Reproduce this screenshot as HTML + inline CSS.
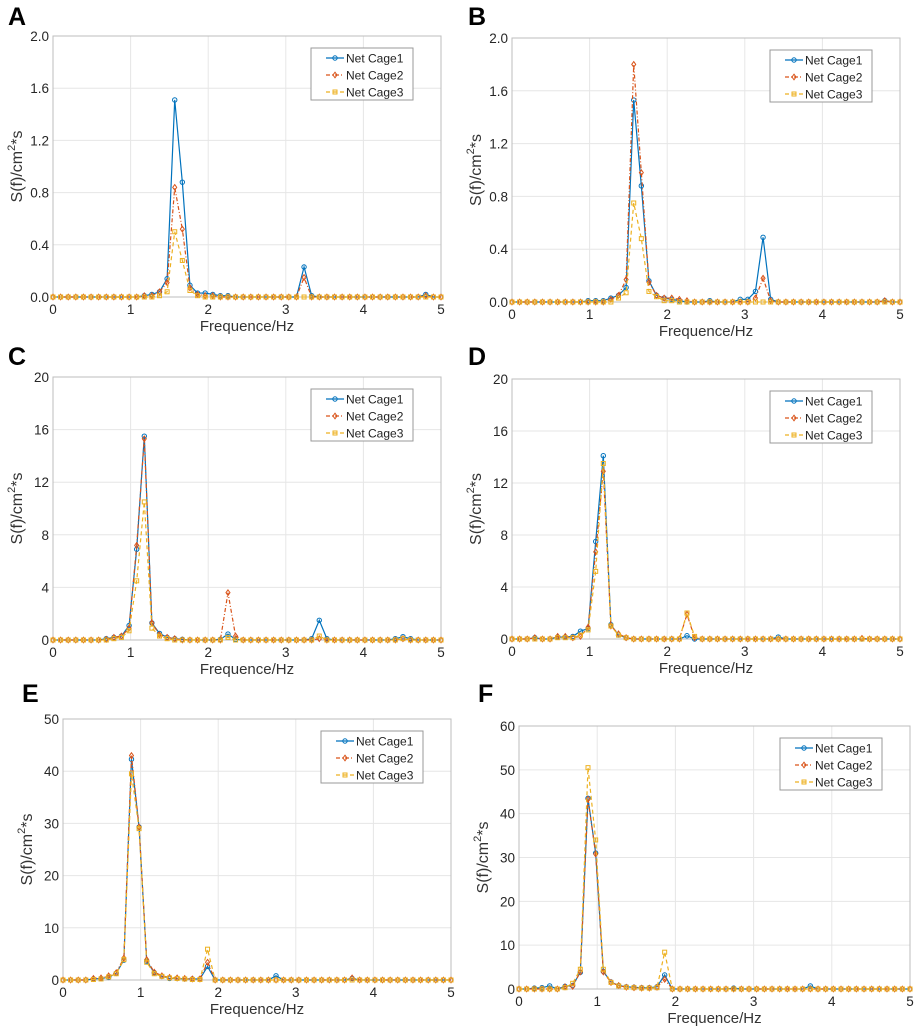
<!DOCTYPE html>
<html><head><meta charset="utf-8">
<style>
html,body{margin:0;padding:0;background:#fff;}
svg{display:block;font-family:"Liberation Sans",Arial,sans-serif;}
</style></head>
<body>
<svg id="fig" width="917" height="1028" viewBox="0 0 917 1028" xmlns="http://www.w3.org/2000/svg"></svg>
<script>
// frequency samples: 52 points between 0 and 5 Hz
const freqCount = 52;
const xTicks = [0,1,2,3,4,5];
const seriesNames = ["Net Cage1","Net Cage2","Net Cage3"];

const yTicksA = ["0.0","0.4","0.8","1.2","1.6","2.0"];
const A1 = [0,0,0,0,0,0,0,0,0,0, 0,0,0.01,0.02,0.04,0.14,1.51,0.88,0.09,0.03, 0.03,0.02,0.01,0.01,0,0,0,0,0,0, 0,0,0,0.23,0.01,0,0,0,0,0, 0,0,0,0,0,0,0,0,0,0.02, 0,0];
const A2 = [0,0,0,0,0,0,0,0,0,0, 0,0,0.01,0.01,0.04,0.11,0.84,0.52,0.07,0.02, 0.01,0.01,0,0,0,0,0,0,0,0, 0,0,0,0.15,0,0,0,0,0,0, 0,0,0,0,0,0,0,0,0,0.01, 0,0];
const A3 = [0,0,0,0,0,0,0,0,0,0, 0,0,0,0,0.01,0.04,0.50,0.28,0.05,0.01, 0,0,0,0,0,0,0,0,0,0, 0,0,0,0,0,0,0,0,0,0, 0,0,0,0,0,0,0,0,0,0, 0,0];

const yTicksB = ["0.0","0.4","0.8","1.2","1.6","2.0"];
const B1 = [0,0,0,0,0,0,0,0,0,0, 0.01,0.01,0.01,0.03,0.05,0.11,1.53,0.88,0.16,0.05, 0.03,0.02,0.01,0,0,0,0.01,0,0,0, 0.02,0.02,0.08,0.49,0.02,0,0,0,0,0, 0,0,0,0,0,0,0,0,0,0.01, 0,0];
const B2 = [0,0,0,0,0,0,0,0,0,0, 0,0,0,0.02,0.05,0.17,1.80,0.98,0.15,0.05, 0.03,0.03,0.02,0.01,0,0,0,0,0,0, 0,0,0.03,0.18,0.01,0,0,0,0,0, 0,0,0,0,0,0,0,0,0,0.01, 0,0];
const B3 = [0,0,0,0,0,0,0,0,0,0, 0,0,0,0,0.03,0.07,0.75,0.48,0.08,0.04, 0.01,0.01,0,0,0,0,0,0,0,0, 0,0,0,0,0,0,0,0,0,0, 0,0,0,0,0,0,0,0,0,0, 0,0];

const yTicksC = ["0","4","8","12","16","20"];
const C1 = [0,0,0,0,0,0,0,0.1,0.2,0.3, 1.1,6.9,15.5,1.3,0.5,0.2,0.1,0.05,0,0, 0,0,0.05,0.45,0.05,0,0,0,0,0, 0,0,0,0,0.1,1.5,0.1,0,0,0, 0,0,0,0,0,0.1,0.25,0.1,0,0, 0,0];
const C2 = [0,0,0,0,0,0,0,0.05,0.2,0.3, 0.9,7.2,15.3,1.3,0.4,0.2,0.1,0,0,0, 0,0,0,3.6,0.3,0,0,0,0,0, 0,0,0,0,0,0.1,0,0,0,0, 0,0,0,0,0,0,0.1,0,0,0, 0,0];
const C3 = [0,0,0,0,0,0,0,0,0.1,0.2, 0.7,4.5,10.5,0.9,0.3,0.1,0,0,0,0, 0,0,0,0.2,0,0,0,0,0,0, 0,0,0,0,0,0.3,0,0,0,0, 0,0,0,0,0,0,0.1,0,0,0, 0,0];

const yTicksD = ["0","4","8","12","16","20"];
const D1 = [0,0,0,0.1,0,0,0.15,0.15,0.2,0.6, 0.8,7.5,14.1,1.1,0.3,0.1,0,0,0,0, 0,0,0,0.25,0,0,0,0,0,0, 0,0,0,0,0,0.15,0,0,0,0, 0,0,0,0,0,0,0,0,0,0, 0,0];
const D2 = [0,0,0,0.1,0,0,0.2,0.2,0.1,0.2, 0.9,6.7,12.9,1.0,0.4,0.1,0,0,0,0, 0,0,0,1.9,0.1,0,0,0,0,0, 0,0,0,0,0,0,0,0,0,0, 0,0,0,0,0,0,0.05,0,0,0, 0,0];
const D3 = [0,0,0,0,0,0,0.1,0.1,0.1,0.3, 0.7,5.2,13.5,1.0,0.3,0.1,0,0,0,0, 0,0,0,2.0,0.2,0,0,0,0,0, 0,0,0,0,0,0,0,0,0,0, 0,0,0,0,0,0,0,0,0,0, 0,0];

const yTicksE = ["0","10","20","30","40","50"];
const E1 = [0,0,0,0,0.2,0.3,0.5,1.3,3.8,42.3, 29.3,3.6,1.4,0.7,0.3,0.3,0.2,0.2,0.2,2.6, 0,0,0,0,0,0,0,0,0.8,0, 0,0,0,0,0,0,0,0,0.3,0, 0,0,0,0,0,0,0,0,0,0, 0,0];
const E2 = [0,0,0,0,0.3,0.4,0.8,1.4,4.2,43.0, 29.3,3.9,1.5,0.8,0.5,0.4,0.3,0.2,0.2,3.4, 0,0,0,0,0,0,0,0,0,0, 0,0,0,0,0,0,0,0,0.4,0, 0,0,0,0,0,0,0,0,0,0, 0,0];
const E3 = [0,0,0,0,0.1,0.2,0.6,1.2,3.9,39.5, 29.0,3.4,1.2,0.7,0.4,0.3,0.2,0.1,0.1,5.9, 0,0,0,0,0,0,0,0,0,0, 0,0,0,0,0,0,0,0,0,0, 0,0,0,0,0,0,0,0,0,0, 0,0];

const yTicksF = ["0","10","20","30","40","50","60"];
const F1 = [0,0,0.2,0.3,0.7,0,0.6,0.8,3.8,43.5, 31.0,4.0,1.6,0.8,0.5,0.4,0.3,0.3,0.5,3.2, 0,0,0,0,0,0,0,0,0.2,0, 0,0,0,0,0,0,0,0,0.7,0, 0,0,0,0,0,0,0,0,0,0, 0,0];
const F2 = [0,0,0,0,0,0,0.5,0.6,3.9,43.3, 30.8,3.9,1.5,0.8,0.4,0.3,0.2,0.2,0.4,2.2, 0,0,0,0,0,0,0,0,0,0, 0,0,0,0,0,0,0,0,0,0, 0,0,0,0,0,0,0,0,0,0, 0,0];
const F3 = [0,0,0,0,0,0,0.3,1.3,4.5,50.5, 34.0,4.5,1.5,0.7,0.4,0.3,0.2,0.2,0.3,8.4, 0,0,0,0,0,0,0,0,0,0, 0,0,0,0,0,0,0,0,0,0, 0,0,0,0,0,0,0,0,0,0, 0,0];

const NS = "http://www.w3.org/2000/svg";
const fig = document.getElementById("fig");
function mk(tag, attrs, parent){
  const e = document.createElementNS(NS, tag);
  for (const k in attrs) e.setAttribute(k, attrs[k]);
  (parent||fig).appendChild(e);
  return e;
}
const colors = ["#0072BD","#D95319","#EDB120"];
const dashes = ["none","4 2 1 2","4 3"];

function panel(id, letter, lx, ly, x0, x1, yBot, yTop, yMax, yTickLabels, series){
  const g = mk("g", {});
  
  
  const X = f => x0 + (f/5)*(x1-x0);
  const Y = v => yBot - (v/yMax)*(yBot-yTop);
  const lt = mk("text", {x:lx, y:ly, "font-size":25, "font-weight":"bold", fill:"#000"}, g);
  lt.textContent = letter;
  
  
  mk("rect", {x:x0, y:yTop, width:x1-x0, height:yBot-yTop, fill:"#fff"}, g);
  xTicks.forEach(t => {
    const gl = mk("line", {x1:X(t), x2:X(t), y1:yTop, y2:yBot, stroke:"#e6e6e6", "stroke-width":1}, g);
    
    
    const tx = mk("text", {x:X(t), y:yBot+17, "font-size":13.5, fill:"#262626", "text-anchor":"middle"}, g);
    tx.textContent = t;
    
    
  });
  const n = yTickLabels.length - 1;
  yTickLabels.forEach((lab, i) => {
    const v = yMax * i / n;
    const gl = mk("line", {x1:x0, x2:x1, y1:Y(v), y2:Y(v), stroke:"#e6e6e6", "stroke-width":1}, g);
    
    
    const tx = mk("text", {x:x0-4, y:Y(v)+5, "font-size":13.5, fill:"#262626", "text-anchor":"end"}, g);
    tx.textContent = lab;
    
    
  });
  const box = mk("rect", {x:x0, y:yTop, width:x1-x0, height:yBot-yTop, fill:"none", stroke:"#bdbdbd", "stroke-width":1}, g);
  
  
  const xt = mk("text", {x:(x0+x1)/2, y:yBot+34, "font-size":15, fill:"#333", "text-anchor":"middle"}, g);
  xt.textContent = "Frequence/Hz";
  
  
  const yc = (yTop+yBot)/2;
  const yt = mk("text", {x:0, y:0, "font-size":16, fill:"#333", "text-anchor":"middle", transform:`translate(${x0-31},${yc}) rotate(-90)`}, g);
  
  
  const s1 = mk("tspan", {}, yt); s1.textContent = "S(f)/cm";
  const s2 = mk("tspan", {dy:-7, "font-size":11}, yt); s2.textContent = "2";
  const s3 = mk("tspan", {dy:7}, yt); s3.textContent = "*s";
  series.forEach((vals, si) => {
    const sg = mk("g", {}, g);
    
    
    const pts = vals.map((v, i) => [X(i*5/(freqCount-1)), Y(v)]);
    mk("polyline", {points: pts.map(p => p.join(",")).join(" "), fill:"none", stroke:colors[si], "stroke-width":1.2, "stroke-dasharray":dashes[si]}, sg);
    pts.forEach(p => {
      let m;
      if (si === 0) m = mk("circle", {cx:p[0], cy:p[1], r:2.2, fill:"none", stroke:colors[0], "stroke-width":1}, sg);
      else if (si === 1) m = mk("path", {d:`M${p[0]},${p[1]-2.8}L${p[0]+2},${p[1]}L${p[0]},${p[1]+2.8}L${p[0]-2},${p[1]}Z`, fill:"none", stroke:colors[1], "stroke-width":1}, sg);
      else m = mk("rect", {x:p[0]-2, y:p[1]-2, width:4, height:4, fill:"none", stroke:colors[2], "stroke-width":1}, sg);
      
      
    });
  });
  const lg = mk("g", {}, g);
  
  
  const lx0 = x1 - 130, ly0 = yTop + 12;
  mk("rect", {x:lx0, y:ly0, width:102, height:52, fill:"#fff", stroke:"#999", "stroke-width":1}, lg);
  seriesNames.forEach((nm, si) => {
    const ey = ly0 + 10 + si*17;
    const e = mk("g", {}, lg);
    
    
    mk("line", {x1:lx0+15, x2:lx0+33, y1:ey, y2:ey, stroke:colors[si], "stroke-width":1.2, "stroke-dasharray":dashes[si]}, e);
    const cx = lx0+24;
    if (si === 0) mk("circle", {cx:cx, cy:ey, r:2.2, fill:"none", stroke:colors[0]}, e);
    else if (si === 1) mk("path", {d:`M${cx},${ey-2.8}L${cx+2},${ey}L${cx},${ey+2.8}L${cx-2},${ey}Z`, fill:"none", stroke:colors[1]}, e);
    else mk("rect", {x:cx-2, y:ey-2, width:4, height:4, fill:"none", stroke:colors[2]}, e);
    const t = mk("text", {x:lx0+35, y:ey+4.5, "font-size":12, fill:"#222"}, e);
    t.textContent = nm;
  });
}

panel("a","A", 8, 25, 53, 441, 297, 36, 2.0, yTicksA, [A1,A2,A3]);
panel("b","B", 468, 25, 512, 900, 302, 38, 2.0, yTicksB, [B1,B2,B3]);
panel("c","C", 8, 365, 53, 441, 640, 377, 20, yTicksC, [C1,C2,C3]);
panel("d","D", 468, 365, 512, 900, 639, 379, 20, yTicksD, [D1,D2,D3]);
panel("e","E", 22, 702, 63, 451, 980, 719, 50, yTicksE, [E1,E2,E3]);
panel("f","F", 478, 702, 519, 910, 989, 726, 60, yTicksF, [F1,F2,F3]);
</script>
</body></html>
